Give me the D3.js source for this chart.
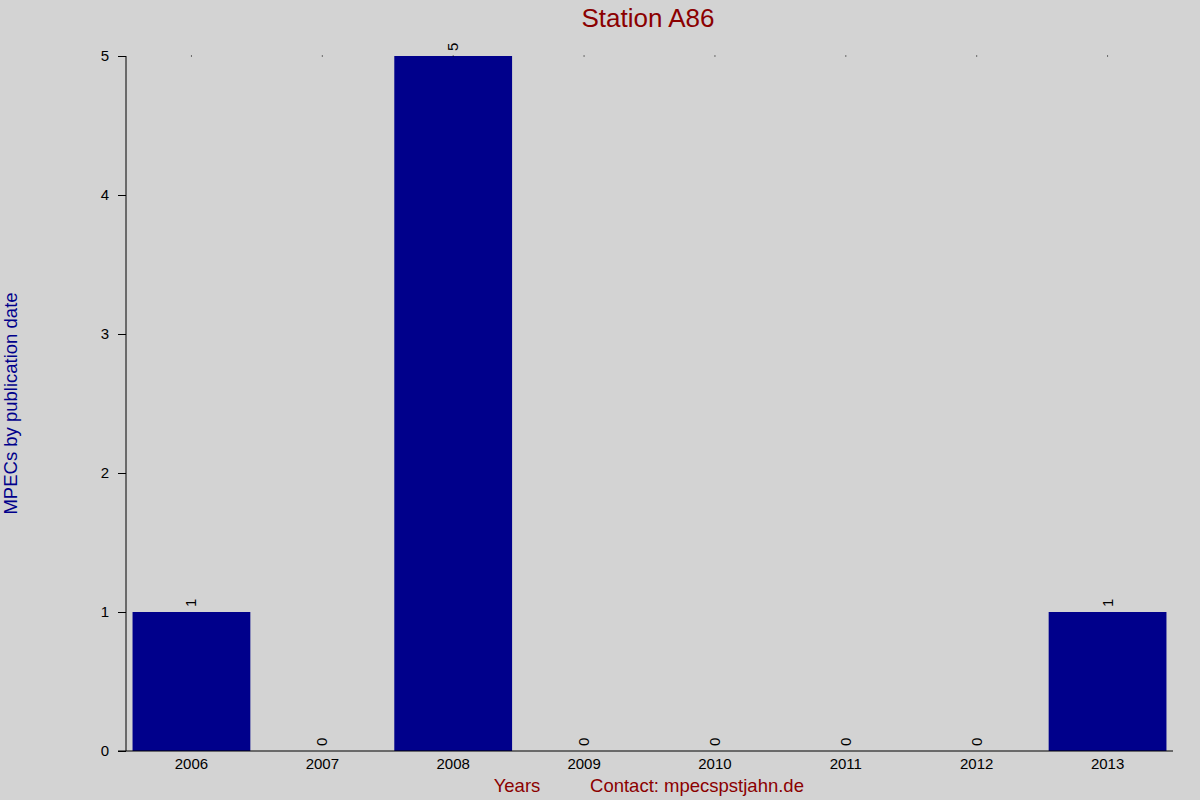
<!DOCTYPE html>
<html>
<head>
<meta charset="utf-8">
<script src="https://cdn.jsdelivr.net/npm/d3@7"></script>
<style>
  body { margin: 0; background: #d3d3d3; }
  svg { display: block; font-family: "Liberation Sans", Arial, sans-serif; }
</style>
</head>
<body>
<svg id="chart"></svg>
<script>
const years = ["2006", "2007", "2008", "2009", "2010", "2011", "2012", "2013"]
const counts = [1, 0, 5, 0, 0, 0, 0, 1]
const yTicks = [0, 1, 2, 3, 4, 5]

const width = 1200
const height = 800
const margin = { top: 56, right: 27, bottom: 49, left: 126 }

const svg = d3.select("#chart").attr("width", width).attr("height", height)
svg.append("rect").attr("width", width).attr("height", height).attr("fill", "#d3d3d3")

const x = d3.scaleBand()
  .domain(years)
  .range([margin.left, width - margin.right])
  .paddingInner(0.1)
  .paddingOuter(0.05)

const y = d3.scaleLinear()
  .domain([0, 5])
  .range([height - margin.bottom, margin.top])

const data = years.map((yr, i) => ({ year: yr, n: counts[i] }))

// bars
svg.append("g")
  .selectAll("rect")
  .data(data)
  .enter()
  .append("rect")
  .attr("x", (d) => x(d.year))
  .attr("y", (d) => y(d.n))
  .attr("width", x.bandwidth())
  .attr("height", (d) => y(0) - y(d.n))
  .attr("fill", "#00008b")

// little dots on the top line
svg.append("g")
  .selectAll("rect")
  .data(data)
  .enter()
  .append("rect")
  .attr("x", (d) => x(d.year) + x.bandwidth() / 2 - 0.5)
  .attr("y", y(5) - 0.5)
  .attr("width", 1)
  .attr("height", 1)
  .attr("fill", "#000")

// value labels
svg.append("g")
  .selectAll("text")
  .data(data)
  .enter()
  .append("text")
  .attr("transform", (d) => `translate(${x(d.year) + x.bandwidth() / 2 + 5},${y(d.n) - 5}) rotate(-90)`)
  .attr("font-size", 15)
  .attr("fill", "#000")
  .text((d) => d.n)

// y axis
const yAxis = d3.axisLeft(y).tickValues(yTicks).tickSize(8).tickPadding(9).tickFormat(d3.format("d"))
const gy = svg.append("g").attr("transform", `translate(${margin.left},0)`).call(yAxis)
gy.attr("font-size", 15).attr("font-family", "Liberation Sans, Arial, sans-serif")
gy.select(".domain").attr("d", `M0,${y(5)}V${y(0)}`).attr("stroke", "#000")
gy.selectAll("text").attr("fill", "#000")

// x axis
const xAxis = d3.axisBottom(x).tickSize(0).tickPadding(7)
const gx = svg.append("g").attr("transform", `translate(0,${y(0)})`).call(xAxis)
gx.attr("font-size", 15).attr("font-family", "Liberation Sans, Arial, sans-serif")
gx.select(".domain").attr("d", `M${margin.left - 8},0H${width - margin.right}`).attr("stroke", "#000")
gx.selectAll("text").attr("fill", "#000")

// title
svg.append("text")
  .attr("x", 648)
  .attr("y", 27)
  .attr("text-anchor", "middle")
  .attr("font-size", 26)
  .attr("fill", "#8b0000")
  .text("Station A86")

// y label
svg.append("text")
  .attr("transform", `translate(17,${(y(0) + y(5)) / 2}) rotate(-90)`)
  .attr("text-anchor", "middle")
  .attr("font-size", 18.5)
  .attr("fill", "#00008b")
  .text("MPECs by publication date")

// bottom labels
svg.append("text")
  .attr("x", 517)
  .attr("y", 792)
  .attr("text-anchor", "middle")
  .attr("font-size", 18.5)
  .attr("fill", "#8b0000")
  .text("Years")

svg.append("text")
  .attr("x", 697)
  .attr("y", 792)
  .attr("text-anchor", "middle")
  .attr("font-size", 18.5)
  .attr("fill", "#8b0000")
  .text("Contact: mpecspstjahn.de")
</script>
</body>
</html>
